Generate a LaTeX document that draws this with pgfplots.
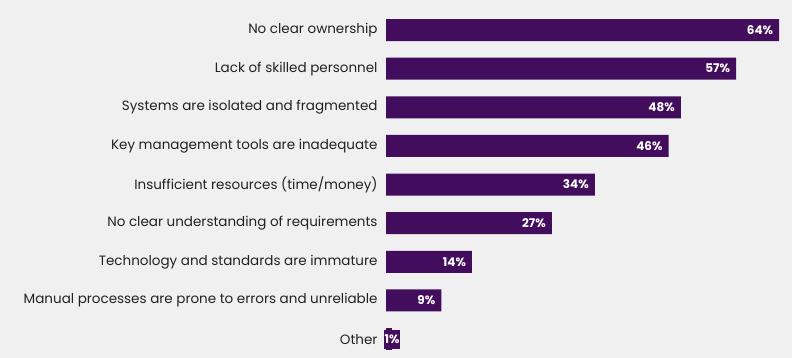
\documentclass[border=0pt]{standalone}
\usepackage{pgfplots}
\pgfplotsset{compat=1.18}
\usepackage{fontspec}
\setmainfont{Poppins}
\definecolor{barc}{HTML}{430D5E}
\definecolor{bgc}{HTML}{F0F0F0}
\definecolor{txt}{HTML}{222222}
\begin{document}
\begin{tikzpicture}
\useasboundingbox (0,0) rectangle (792pt,358pt);
\fill[bgc] (0,0) rectangle (792pt,358pt);
\begin{axis}[
  at={(386pt,0pt)}, anchor=south west,
  scale only axis, width=406pt, height=358pt,
  xbar, bar width=22pt, bar shift=0pt,
  /pgf/number format/assume math mode=true,
  xmin=0, xmax=66.1,
  ymin=-0.777, ymax=8.49, y dir=reverse,
  ytick={0,...,8},
  yticklabels={No clear ownership, Lack of skilled personnel, Systems are isolated and fragmented, Key management tools are inadequate, Insufficient resources (time/money), No clear understanding of requirements, Technology and standards are immature, Manual processes are prone to errors and unreliable, Other},
  yticklabel style={font=\fontsize{13.5}{15}\selectfont, text=txt, inner sep=0pt, xshift=-4pt},
  xtick=\empty,
  axis line style={draw=none}, tick style={draw=none},
  nodes near coords={\pgfmathprintnumber{\pgfplotspointmeta}\%},
  every node near coord/.append style={font=\fontsize{12}{14}\selectfont\bfseries, text=white, anchor=east, xshift=-2.5pt},
]
\addplot[fill=barc, draw=none, bar shift=0pt] coordinates {(64,0) (57,1) (48,2) (46,3) (34,4) (27,5) (14,6) (9,7)};
\addplot[fill=barc, draw=none, bar shift=0pt, nodes near coords={\pgfmathprintnumber{\pgfplotspointmeta}\%},
  every node near coord/.append style={anchor=west, xshift=-5.8pt, fill=barc, inner xsep=0.5pt, inner ysep=5pt}] coordinates {(1,8)};
\end{axis}
\end{tikzpicture}
\end{document}
